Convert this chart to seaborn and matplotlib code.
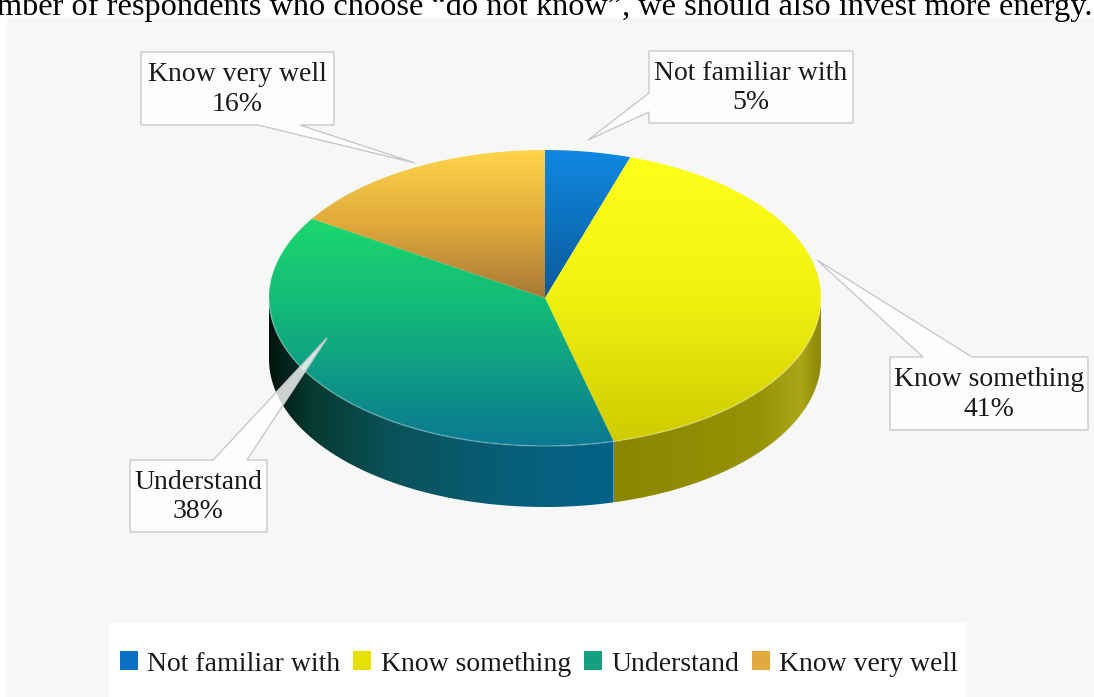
import numpy as np
import matplotlib
matplotlib.use("Agg")
import matplotlib.pyplot as plt
from matplotlib.patches import Polygon, Rectangle, Patch
from matplotlib.colors import LinearSegmentedColormap
import seaborn as sns

# Data
categories = ["Not familiar with", "Know something", "Understand", "Know very well"]
shares = [5, 41, 38, 16]
pct_labels = ["5%", "41%", "38%", "16%"]

# gradient stops (top face: top -> bottom, side: left -> right)
top_grad = [[(0, "#1088e2"), (1, "#0a5a98")],
            [(0, "#ffff1a"), (0.5, "#f2f010"), (1, "#cfcb00")],
            [(0, "#1cd86c"), (0.45, "#12b47c"), (1, "#0a7892")],
            [(0, "#ffd54a"), (0.5, "#e0a93c"), (1, "#a67a36")]]
side_grad = [None,
             [(0, "#8a8600"), (0.7, "#979206"), (0.9, "#aca61a"), (1, "#8a8400")],
             [(0, "#00140e"), (0.12, "#063a30"), (0.35, "#0a5258"), (0.7, "#075e78"), (1, "#04628a")],
             None]
legend_cols = sns.color_palette(["#0b6fc4", "#e4e000", "#14a07e", "#e2aa3c"])

sns.set_theme(style="white")
plt.rcParams['font.family'] = ['Liberation Serif', 'DejaVu Serif']

W, H = 1094, 697
fig = plt.figure(figsize=(W / 100, H / 100), dpi=100)
fig.patch.set_facecolor("white")
ax = fig.add_axes([0, 0, 1, 1])
ax.axis("off")

# chart area background
ax.add_patch(Rectangle((7, 18), W - 7, H - 18, facecolor="#f7f7f7", edgecolor="none", zorder=0))

cx, cy, a, b, depth = 545, 298, 276, 148, 61


def fill_gradient(verts, stops, horizontal=False, z=2):
    verts = np.asarray(verts)
    poly = Polygon(verts, closed=True, facecolor="none", edgecolor="none", zorder=z)
    ax.add_patch(poly)
    cmap = LinearSegmentedColormap.from_list("g", stops)
    if horizontal:
        grad = np.linspace(0, 1, 256).reshape(1, -1)
    else:
        grad = np.linspace(0, 1, 256).reshape(-1, 1)
    xs, ys = verts[:, 0], verts[:, 1]
    im = ax.imshow(grad, cmap=cmap, aspect="auto", origin="upper", interpolation="bilinear",
                   extent=(xs.min(), xs.max(), ys.max(), ys.min()), zorder=z)
    im.set_clip_path(poly)


def rim(t, dy=0):
    return np.column_stack([cx + a * np.cos(t), cy - b * np.sin(t) + dy])


# slice angles, clockwise from 12 o'clock
fracs = np.array(shares) / np.sum(shares)
ends = np.pi / 2 - 2 * np.pi * np.cumsum(fracs)
starts = np.concatenate([[np.pi / 2], ends[:-1]])

# side walls (front half only: angles between -pi and 0)
for i in range(len(shares)):
    if side_grad[i] is None:
        continue
    lo, hi = max(ends[i], -np.pi), min(starts[i], 0)
    if lo >= hi:
        continue
    t = np.linspace(hi, lo, 200)
    fill_gradient(np.vstack([rim(t), rim(t[::-1], depth)]), side_grad[i], horizontal=True, z=2)

# top faces
for i in range(len(shares)):
    t = np.linspace(starts[i], ends[i], 200)
    fill_gradient(np.vstack([[cx, cy], rim(t)]), top_grad[i], z=3)

# faint highlight on the front rim
t = np.linspace(-np.pi, 0, 200)
ax.plot(*rim(t).T, color="white", alpha=0.25, lw=1.2, zorder=4)

# callouts (box + pointer wedge)
callouts = [
    ((649, 51, 853, 123), [(649, 112), (649, 93)], (588, 140), "left"),
    ((890, 357, 1088, 430), [(923, 357), (972, 357)], (817, 260), "top"),
    ((130, 460, 267, 532), [(213, 460), (247, 460)], (327, 338), "top"),
    ((141, 52, 334, 125), [(300, 125), (258, 125)], (415, 163), "bottom"),
]
for i, (box, base, tip, side) in enumerate(callouts):
    x0, y0, x1, y1 = box
    if side == "top":
        pts = [(x0, y0), base[0], tip, base[1], (x1, y0), (x1, y1), (x0, y1)]
    elif side == "left":
        pts = [(x0, y0), (x1, y0), (x1, y1), (x0, y1), base[0], tip, base[1]]
    else:
        pts = [(x0, y0), (x1, y0), (x1, y1), base[0], tip, base[1], (x0, y1)]
    ax.add_patch(Polygon(pts, closed=True, facecolor=(1, 1, 1, 0.8), edgecolor="#c8c8c8",
                         lw=1.0, zorder=5))
    ax.text((x0 + x1) / 2, (y0 + y1) / 2 + 1, f"{categories[i]}\n{pct_labels[i]}",
            ha="center", va="center", fontsize=20, color="#1a1a1a", linespacing=1.25, zorder=6)

# legend box
ax.add_patch(Rectangle((109, 623), 858, H - 623, facecolor="white", edgecolor="none", zorder=1))
handles = [Patch(facecolor=c, edgecolor="none") for c in legend_cols]
fig.legend(handles, categories, loc="center", bbox_to_anchor=(539 / W, 1 - 664 / H), ncol=4,
           frameon=False, fontsize=20, handlelength=0.65, handleheight=0.65,
           handletextpad=0.35, columnspacing=0.45, labelcolor="#1a1a1a")

# clipped sentence from the page above the chart
ax.text(-3, 15, "mber of respondents who choose \u201cdo not know\u201d, we should also invest more energy.",
        ha="left", va="baseline", fontsize=23.3, color="black", zorder=7)

ax.set_xlim(0, W)
ax.set_ylim(H, 0)
fig.savefig("out.png", dpi=100)
